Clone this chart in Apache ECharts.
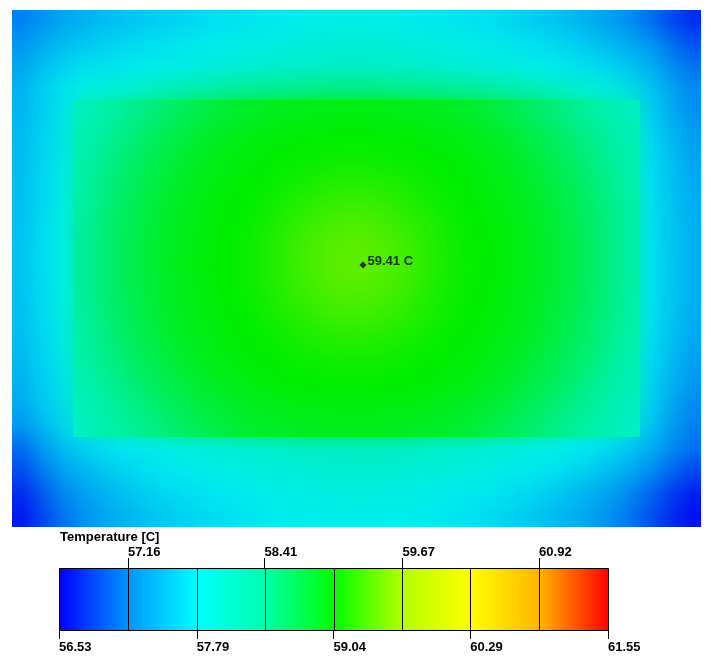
<!DOCTYPE html>
<html><head><meta charset="utf-8">
<script src="https://cdn.jsdelivr.net/npm/echarts@6/dist/echarts.min.js"></script>
<style>
html,body{margin:0;padding:0;background:#fff}
#wrap{position:relative;width:710px;height:663px;overflow:hidden}
.heat{position:absolute;transform-origin:0 0;image-rendering:auto}
#c{position:absolute;left:0;top:0;width:710px;height:663px}
</style>
</head><body><div id="wrap"><div id="heatOuter" class="heat"></div><div id="heatInner" class="heat"></div><div id="c"></div></div>
<script>
// Temperature field (deg C), rows top->bottom, columns left->right
const tempRows = [
[57.05,57.15,57.25,57.33,57.39,57.45,57.5,57.55,57.59,57.63,57.67,57.7,57.73,57.76,57.78,57.8,57.81,57.81,57.8,57.78,57.76,57.73,57.7,57.66,57.61,57.56,57.5,57.43,57.35,57.25,57.13,57.0,56.85,56.68],
[57.15,57.28,57.4,57.48,57.54,57.59,57.63,57.67,57.71,57.75,57.78,57.81,57.84,57.87,57.9,57.92,57.93,57.93,57.92,57.9,57.87,57.84,57.81,57.77,57.73,57.68,57.62,57.56,57.49,57.4,57.3,57.17,57.02,56.85],
[57.25,57.42,57.55,57.63,57.68,57.72,57.76,57.8,57.84,57.88,57.92,57.96,57.99,58.02,58.05,58.07,58.08,58.08,58.07,58.05,58.02,57.99,57.96,57.92,57.88,57.83,57.78,57.72,57.65,57.57,57.48,57.35,57.18,57.0],
[57.35,57.55,57.7,57.78,57.82,57.86,57.9,57.94,57.98,58.02,58.06,58.1,58.13,58.16,58.19,58.21,58.22,58.22,58.21,58.19,58.16,58.13,58.1,58.06,58.02,57.98,57.93,57.87,57.81,57.74,57.66,57.52,57.33,57.12],
[57.38,57.55,57.7,58.13,58.30,58.38,58.47,58.56,58.64,58.71,58.78,58.83,58.87,58.90,58.91,58.93,58.93,58.93,58.93,58.91,58.90,58.87,58.83,58.78,58.71,58.64,58.56,58.47,58.38,58.30,58.13,57.62,57.38,57.15],
[57.4,57.57,57.72,58.21,58.39,58.48,58.58,58.67,58.75,58.83,58.88,58.93,58.96,58.98,59.00,59.01,59.02,59.02,59.01,59.00,58.98,58.96,58.93,58.88,58.83,58.75,58.67,58.58,58.48,58.39,58.21,57.66,57.45,57.22],
[57.42,57.59,57.74,58.25,58.44,58.54,58.64,58.73,58.81,58.88,58.94,58.97,59.00,59.02,59.05,59.06,59.07,59.07,59.06,59.05,59.02,59.00,58.97,58.94,58.88,58.81,58.73,58.64,58.54,58.44,58.25,57.69,57.5,57.28],
[57.44,57.61,57.75,58.29,58.49,58.59,58.69,58.78,58.86,58.93,58.97,59.00,59.03,59.07,59.10,59.13,59.14,59.14,59.13,59.10,59.07,59.03,59.00,58.97,58.93,58.86,58.78,58.69,58.59,58.49,58.29,57.71,57.53,57.32],
[57.45,57.62,57.76,58.32,58.52,58.63,58.73,58.82,58.90,58.95,58.99,59.03,59.07,59.12,59.17,59.20,59.23,59.23,59.20,59.17,59.12,59.07,59.03,58.99,58.95,58.90,58.82,58.73,58.63,58.52,58.32,57.72,57.55,57.35],
[57.46,57.63,57.77,58.34,58.55,58.66,58.76,58.85,58.92,58.97,59.01,59.05,59.11,59.17,59.23,59.28,59.31,59.31,59.28,59.23,59.17,59.11,59.05,59.01,58.97,58.92,58.85,58.76,58.66,58.55,58.34,57.73,57.56,57.37],
[57.47,57.64,57.78,58.36,58.57,58.67,58.77,58.86,58.93,58.98,59.02,59.07,59.13,59.20,59.28,59.34,59.38,59.38,59.34,59.28,59.20,59.13,59.07,59.02,58.98,58.93,58.86,58.77,58.67,58.57,58.36,57.74,57.57,57.38],
[57.47,57.64,57.78,58.36,58.57,58.68,58.78,58.87,58.94,58.99,59.03,59.08,59.14,59.22,59.30,59.36,59.40,59.40,59.36,59.30,59.22,59.14,59.08,59.03,58.99,58.94,58.87,58.78,58.68,58.57,58.36,57.74,57.58,57.38],
[57.47,57.64,57.78,58.36,58.57,58.67,58.77,58.86,58.93,58.98,59.02,59.07,59.13,59.20,59.28,59.34,59.38,59.38,59.34,59.28,59.20,59.13,59.07,59.02,58.98,58.93,58.86,58.77,58.67,58.57,58.36,57.74,57.57,57.38],
[57.46,57.63,57.77,58.34,58.55,58.66,58.76,58.85,58.92,58.97,59.01,59.05,59.11,59.17,59.23,59.28,59.31,59.31,59.28,59.23,59.17,59.11,59.05,59.01,58.97,58.92,58.85,58.76,58.66,58.55,58.34,57.73,57.56,57.36],
[57.44,57.61,57.76,58.32,58.52,58.63,58.73,58.82,58.90,58.95,58.99,59.03,59.07,59.12,59.17,59.20,59.23,59.23,59.20,59.17,59.12,59.07,59.03,58.99,58.95,58.90,58.82,58.73,58.63,58.52,58.32,57.72,57.54,57.33],
[57.41,57.59,57.74,58.29,58.49,58.59,58.69,58.78,58.86,58.93,58.97,59.00,59.03,59.07,59.10,59.13,59.14,59.14,59.13,59.10,59.07,59.03,59.00,58.97,58.93,58.86,58.78,58.69,58.59,58.49,58.29,57.7,57.51,57.29],
[57.37,57.56,57.72,58.25,58.44,58.54,58.64,58.73,58.81,58.88,58.94,58.97,59.00,59.02,59.05,59.06,59.07,59.07,59.06,59.05,59.02,59.00,58.97,58.94,58.88,58.81,58.73,58.64,58.54,58.44,58.25,57.67,57.46,57.23],
[57.32,57.52,57.69,58.21,58.39,58.48,58.58,58.67,58.75,58.83,58.88,58.93,58.96,58.98,59.00,59.01,59.02,59.02,59.01,59.00,58.98,58.96,58.93,58.88,58.83,58.75,58.67,58.58,58.48,58.39,58.21,57.63,57.4,57.15],
[57.25,57.47,57.65,58.13,58.30,58.38,58.47,58.56,58.64,58.71,58.78,58.83,58.87,58.90,58.91,58.93,58.93,58.93,58.93,58.91,58.90,58.87,58.83,58.78,58.71,58.64,58.56,58.47,58.38,58.30,58.13,57.6,57.35,57.1],
[57.0,57.28,57.5,57.63,57.72,57.79,57.85,57.9,57.95,57.99,58.03,58.07,58.1,58.14,58.17,58.19,58.2,58.21,58.2,58.18,58.15,58.12,58.09,58.05,58.01,57.97,57.92,57.86,57.79,57.71,57.6,57.45,57.25,57.05],
[56.85,57.1,57.3,57.45,57.55,57.63,57.7,57.76,57.81,57.86,57.9,57.93,57.96,57.99,58.02,58.04,58.05,58.07,58.06,58.04,58.02,57.99,57.96,57.92,57.88,57.83,57.78,57.72,57.64,57.55,57.43,57.28,57.1,56.9],
[56.72,56.95,57.15,57.3,57.42,57.51,57.59,57.65,57.7,57.75,57.79,57.83,57.86,57.89,57.91,57.93,57.94,57.94,57.93,57.91,57.89,57.86,57.83,57.79,57.74,57.68,57.61,57.53,57.44,57.33,57.2,57.05,56.88,56.7],
[56.6,56.8,57.0,57.15,57.28,57.38,57.46,57.53,57.59,57.64,57.68,57.72,57.75,57.78,57.8,57.82,57.83,57.83,57.82,57.8,57.78,57.75,57.71,57.67,57.62,57.56,57.49,57.41,57.32,57.21,57.08,56.93,56.77,56.6]
];
// component (chip) footprint in field cells
const chipCol0 = 3, chipCols = 28, chipRow0 = 4, chipRows = 15;
const barMin = 56.53;
const barMax = 61.55;
const bandEdges = [56.53, 57.16, 57.79, 58.41, 59.04, 59.67, 60.29, 60.92, 61.55];
const bottomTicks = [56.53, 57.79, 59.04, 60.29, 61.55];
const topTicks = [57.16, 58.41, 59.67, 60.92];
const barColors = ['#0000ff','#0096ff','#00ffff','#00ffaa','#00ff00','#b4ff00','#ffff00','#ffb400','#ff0000'];
const mapColors = ['#0000f0','#0090f2','#00eef0','#00f0a2','#00ee00','#aaf000','#f0f000','#f0aa00','#f00000'];
const probePos = [351, 255];
const probeValue = 59.41;

// board placement on the page
const board = {left: 12, top: 10, width: 689, height: 517};

const nCols = tempRows[0].length, nRows = tempRows.length;
const cellW = board.width / nCols, cellH = board.height / nRows;

// Each field layer is rendered by ECharts as a heatmap with one pixel per cell and
// then displayed enlarged (smooth browser resampling) over the board area.
function heatLayer(domId, rows, left, top) {
  const dom = document.getElementById(domId);
  const nc = rows[0].length, nr = rows.length;
  dom.style.width = nc + 'px';
  dom.style.height = nr + 'px';
  dom.style.left = left + 'px';
  dom.style.top = top + 'px';
  dom.style.transform = 'scale(' + cellW + ',' + cellH + ')';
  const xc = [], yc = [], d = [];
  for (let i = 0; i < nc; i++) xc.push(String(i));
  for (let j = 0; j < nr; j++) yc.push(String(j));
  rows.forEach((row, j) => row.forEach((v, i) => d.push([i, j, v])));
  const ch = echarts.init(dom, null, {renderer: 'canvas', devicePixelRatio: 1, width: nc, height: nr});
  ch.setOption({
    animation: false,
    grid: {left: 0, right: 0, top: 0, bottom: 0},
    xAxis: {type: 'category', data: xc, show: false},
    yAxis: {type: 'category', data: yc, show: false, inverse: true},
    visualMap: {type: 'continuous', min: barMin, max: barMax, show: false, inRange: {color: mapColors}},
    series: [{type: 'heatmap', data: d, progressive: 0, itemStyle: {borderWidth: 0}, emphasis: {disabled: true}}]
  });
}
heatLayer('heatOuter', tempRows, board.left, board.top);
const chipRowsData = tempRows.slice(chipRow0, chipRow0 + chipRows).map(r => r.slice(chipCol0, chipCol0 + chipCols));
heatLayer('heatInner', chipRowsData, board.left + chipCol0 * cellW, board.top + chipRow0 * cellH);

const segs = [];
for (let k = 0; k < bandEdges.length - 1; k++) segs.push([bandEdges[k], bandEdges[k + 1], k]);

const lblStyle = {fontFamily: 'Liberation Sans', fontWeight: 'bold', fontSize: 13, color: '#000'};
const chart = echarts.init(document.getElementById('c'), null, {renderer: 'canvas'});
const option = {
  animation: false,
  backgroundColor: 'transparent',
  textStyle: {fontFamily: 'Liberation Sans'},
  title: {text: 'Temperature [C]', left: 60, top: 531, padding: 0, textStyle: lblStyle},
  grid: [
    {left: board.left, top: board.top, width: board.width, height: board.height},
    {left: 59, top: 568, width: 549, height: 62}
  ],
  xAxis: [
    {type: 'value', gridIndex: 0, min: 0, max: board.width, show: false},
    {type: 'value', gridIndex: 1, min: barMin, max: barMax, position: 'bottom',
      axisLine: {show: false}, splitLine: {show: false},
      axisTick: {show: true, length: 9, lineStyle: {color: '#000', width: 1}, customValues: bottomTicks},
      axisLabel: Object.assign({customValues: bottomTicks, formatter: v => v.toFixed(2), align: 'left', margin: 11}, lblStyle)},
    {type: 'value', gridIndex: 1, min: barMin, max: barMax, position: 'top',
      axisLine: {show: false}, splitLine: {show: false},
      axisTick: {show: true, length: 10, lineStyle: {color: '#000', width: 1}, customValues: topTicks},
      axisLabel: Object.assign({customValues: topTicks, formatter: v => v.toFixed(2), align: 'left', margin: 9}, lblStyle)}
  ],
  yAxis: [
    {type: 'value', gridIndex: 0, min: 0, max: board.height, inverse: true, show: false},
    {type: 'value', gridIndex: 1, min: 0, max: 1, show: false}
  ],
  series: [
    {type: 'scatter', xAxisIndex: 0, yAxisIndex: 0, data: [probePos], symbol: 'diamond', symbolSize: 7,
      itemStyle: {color: '#000'}, z: 5,
      label: Object.assign({show: true, position: 'right', distance: 1, offset: [0, -4],
        formatter: () => probeValue.toFixed(2) + ' C'}, lblStyle)},
    {type: 'custom', xAxisIndex: 1, yAxisIndex: 1, data: segs, z: 3,
      renderItem: function (params, api) {
        const s = api.value(0), e = api.value(1), k = api.value(2);
        const p0 = api.coord([s, 1]), p1 = api.coord([e, 0]);
        const x0 = Math.round(p0[0]) + 0.5, y0 = Math.round(p0[1]) + 0.5;
        const x1 = Math.round(p1[0]) + 0.5, y1 = Math.round(p1[1]) + 0.5;
        return {type: 'rect', shape: {x: x0, y: y0, width: x1 - x0, height: y1 - y0},
          style: {fill: new echarts.graphic.LinearGradient(0, 0, 1, 0, [
            {offset: 0, color: barColors[k]}, {offset: 1, color: barColors[k + 1]}]),
            stroke: '#000', lineWidth: 1}};
      }}
  ]
};
chart.setOption(option);
</script>
</body></html>
